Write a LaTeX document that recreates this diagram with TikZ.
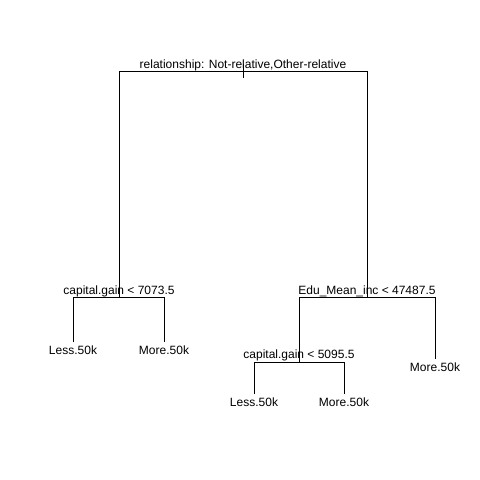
\documentclass[tikz,border=0pt]{standalone}
\usepackage{fontspec}
\setmainfont{Liberation Sans}
\begin{document}
\begin{tikzpicture}[x=1pt,y=-1pt,
  edge/.style={draw=black,line width=0.9pt},
  splitlbl/.style={anchor=base,inner sep=0pt,font=\fontsize{12}{14}\selectfont},
  leaflbl/.style={anchor=north,inner sep=0pt,font=\fontsize{12}{14}\selectfont}]
\useasboundingbox (0,0) rectangle (480,480);
% split points
\coordinate (r) at (243,71);
\coordinate (rl) at (119,71);
\coordinate (rr) at (367,71);
\coordinate (a) at (119,297);
\coordinate (al) at (73,297);
\coordinate (ar) at (164,297);
\coordinate (b) at (367,297);
\coordinate (bl) at (299,297);
\coordinate (br) at (435,297);
\coordinate (c) at (299,362);
\coordinate (cl) at (254,362);
\coordinate (cr) at (344,362);
\coordinate (l1) at (73,342);
\coordinate (l2) at (164,342);
\coordinate (l3) at (254,394);
\coordinate (l4) at (344,394);
\coordinate (l5) at (435,359);
% labels
\node[splitlbl] (rt) at (243,68) {relationship: Not-relative,Other-relative};
\node[splitlbl] (at) at (119,294) {capital.gain < 7073.5};
\node[splitlbl] (bt) at (367,294) {Edu\_Mean\_inc < 47487.5};
\node[splitlbl] (ct) at (299,358) {capital.gain < 5095.5};
\node[leaflbl] (n1) at (73,345.5) {Less.50k};
\node[leaflbl] (n2) at (164,345.5) {More.50k};
\node[leaflbl] (n3) at (254,397.5) {Less.50k};
\node[leaflbl] (n4) at (344,397.5) {More.50k};
\node[leaflbl] (n5) at (435,362.5) {More.50k};
% tree
\draw[edge] (243,64) -- (243,78);
\draw[edge] (a) -- (rl) -- (rr) -- (b);
\draw[edge] (l1) -- (al) -- (ar) -- (l2);
\draw[edge] (c) -- (bl) -- (br) -- (l5);
\draw[edge] (l3) -- (cl) -- (cr) -- (l4);
\end{tikzpicture}
\end{document}
